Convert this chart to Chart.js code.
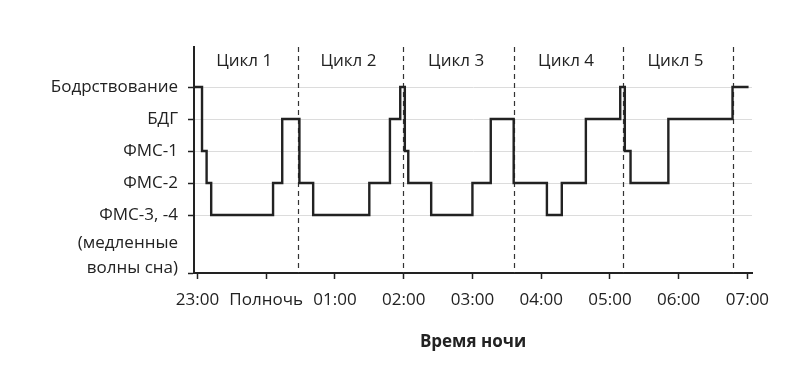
<!DOCTYPE html>
<html>
<head>
<meta charset="utf-8">
<script src="https://cdn.jsdelivr.net/npm/chart.js@4"></script>
<style>
  body { margin: 0; background: #fff; }
  #wrap { width: 803px; height: 370px; }
</style>
</head>
<body>
<div id="wrap"><canvas id="sleepChart"></canvas></div>
<script>
// Minutes after 23:00 where each stage begins, and the stage (0 = ФМС-3,-4 ... 4 = Бодрствование)
const stageTimes = [-3, 4, 8, 12, 66, 74, 89, 101, 150, 168, 177, 181, 184, 204, 240, 256, 276, 305, 318, 339, 369, 373, 378, 411, 467, 481];
const stageValues = [4, 2, 1, 0, 1, 3, 1, 0, 1, 3, 4, 2, 1, 0, 1, 3, 1, 0, 1, 3, 4, 2, 1, 3, 4, 4];

const stageLabels = ['ФМС-3, -4', 'ФМС-2', 'ФМС-1', 'БДГ', 'Бодрствование'];
const stageLabelExtra = ['(медленные', 'волны сна)'];

const hourTicks = [0, 60, 120, 180, 240, 300, 360, 420, 480];
const hourLabels = ['23:00', 'Полночь', '01:00', '02:00', '03:00', '04:00', '05:00', '06:00', '07:00'];

// Cycle boundaries (minutes after 23:00)
const cycleBounds = [-3, 88, 179, 276, 371, 467];
const cycleLabels = ['Цикл 1', 'Цикл 2', 'Цикл 3', 'Цикл 4', 'Цикл 5'];

const textColor = '#222';
const fontFamily = '"Open Sans", sans-serif';
const fontSize = 17;

// Dashed cycle lines, cycle names and the extra label lines
const cyclePlugin = {
    id: 'cycles',
    beforeDatasetsDraw(chart) {
        const { ctx, scales: { x }, chartArea } = chart;
        ctx.save();
        ctx.strokeStyle = '#333';
        ctx.lineWidth = 1.2;
        ctx.setLineDash([5, 4]);
        cycleBounds.slice(1).forEach(t => {
            const px = Math.round(x.getPixelForValue(t)) + 0.5;
            ctx.beginPath();
            ctx.moveTo(px, chartArea.top);
            ctx.lineTo(px, chartArea.bottom);
            ctx.stroke();
        });
        ctx.restore();
    },
    afterDraw(chart) {
        const { ctx, scales: { x, y } } = chart;
        ctx.save();
        ctx.fillStyle = textColor;
        ctx.font = fontSize + 'px ' + fontFamily;
        ctx.textAlign = 'center';
        ctx.textBaseline = 'middle';
        cycleLabels.forEach((label, i) => {
            const mid = (cycleBounds[i] + cycleBounds[i + 1]) / 2;
            ctx.fillText(label, x.getPixelForValue(mid) - 2, 61);
        });
        ctx.textAlign = 'right';
        const base = y.getPixelForValue(0);
        stageLabelExtra.forEach((line, i) => {
            ctx.fillText(line, y.right - 16, base + 28 + i * 25);
        });
        ctx.restore();
    }
};

const ctx = document.getElementById('sleepChart').getContext('2d');
new Chart(ctx, {
    type: 'line',
    data: {
        datasets: [{
            data: stageTimes.map((t, i) => ({ x: t, y: stageValues[i] })),
            stepped: 'before',
            borderColor: '#222',
            borderWidth: 2.4,
            pointRadius: 0,
            fill: false
        }]
    },
    options: {
        responsive: true,
        maintainAspectRatio: false,
        animation: false,
        layout: {
            padding: { top: 47, right: 51, left: 0, bottom: 0 }
        },
        plugins: {
            legend: { display: false },
            tooltip: { enabled: false }
        },
        scales: {
            x: {
                type: 'linear',
                min: -3,
                max: 484,
                afterBuildTicks: scale => {
                    scale.ticks = hourTicks.map(v => ({ value: v }));
                },
                afterFit: scale => {
                    scale.height = 97;
                },
                ticks: {
                    color: textColor,
                    font: { family: fontFamily, size: fontSize },
                    padding: 11,
                    maxRotation: 0,
                    autoSkip: false,
                    callback: (value) => hourLabels[hourTicks.indexOf(value)]
                },
                grid: {
                    drawOnChartArea: false,
                    tickLength: 6,
                    tickColor: '#222',
                    tickWidth: 1.5
                },
                border: { color: '#222', width: 2 },
                title: {
                    display: true,
                    text: 'Время ночи',
                    color: textColor,
                    font: { family: fontFamily, size: fontSize, weight: 'bold' },
                    padding: { top: 0, bottom: 18 }
                }
            },
            y: {
                min: -1.8125,
                max: 5.25,
                afterBuildTicks: scale => {
                    scale.ticks = [-1.8125, 0, 1, 2, 3, 4].map(v => ({ value: v }));
                },
                afterFit: scale => {
                    scale.width = 194;
                },
                ticks: {
                    color: textColor,
                    font: { family: fontFamily, size: fontSize },
                    padding: 10,
                    callback: (value) => Number.isInteger(value) ? stageLabels[value] : ''
                },
                grid: {
                    color: '#dcdcdc',
                    lineWidth: 1,
                    tickLength: 6,
                    tickColor: '#222',
                    tickWidth: 1.5
                },
                border: { color: '#222', width: 2 }
            }
        }
    },
    plugins: [cyclePlugin]
});
</script>
</body>
</html>
